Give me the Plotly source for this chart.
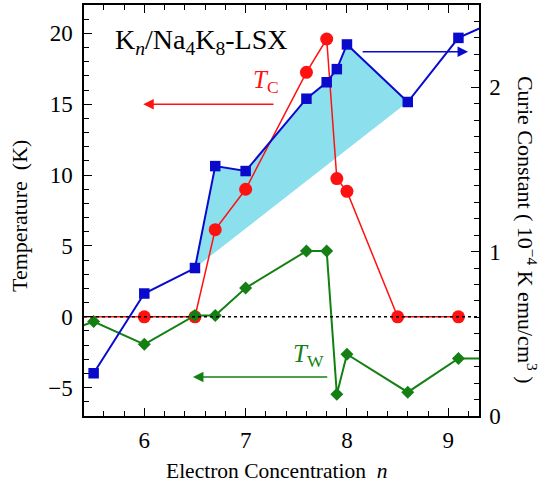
import plotly.graph_objects as go

# T_C (left axis, K)
tc_n = [5.0, 6.0, 6.5, 6.7, 7.0, 7.6, 7.8, 7.9, 8.0, 8.5, 9.1]
tc_T = [0.0, 0.0, 0.0, 6.15, 9.0, 17.25, 19.6, 9.75, 8.85, 0.0, 0.0]

# Curie constant (right axis, 1e-4 K emu/cm^3)
cc_n = [5.5, 6.0, 6.5, 6.7, 7.0, 7.6, 7.8, 7.9, 8.0, 8.6, 9.1, 9.6]
cc_C = [0.26, 0.745, 0.90, 1.52, 1.49, 1.93, 2.03, 2.11, 2.26, 1.91, 2.30, 2.44]

# T_W (left axis, K)
tw_n = [5.0, 5.5, 6.0, 6.5, 6.7, 7.0, 7.6, 7.8, 7.9, 8.0, 8.6, 9.1, 9.6]
tw_T = [-1.7, -0.33, -1.94, 0.1, 0.1, 2.03, 4.64, 4.64, -5.46, -2.64, -5.32, -2.94, -2.94]

x_ticks = [6, 7, 8, 9]
y_ticks = [-5, 0, 5, 10, 15, 20]
y2_ticks = [0, 1, 2]

Y_RANGE = [-7, 22]
Y2_RANGE = [0, 2.5]

RED = "#ff1111"
BLUE = "#0a0acc"
GREEN = "#148014"
CYAN = "rgb(140,224,238)"
FONT = "Liberation Serif"


def y2_to_y(v):
    # map a right-axis value to the left-axis scale (both axes share the plot height)
    return Y_RANGE[0] + (v - Y2_RANGE[0]) * (Y_RANGE[1] - Y_RANGE[0]) / (Y2_RANGE[1] - Y2_RANGE[0])


fig = go.Figure()

# shaded region between Curie constant curve (6.5 .. 8.6) and a straight chord
i0, i1 = cc_n.index(6.5), cc_n.index(8.6)
fig.add_trace(go.Scatter(x=cc_n[i0:i1 + 1], y=[y2_to_y(v) for v in cc_C[i0:i1 + 1]],
                         mode="none", fill="toself", fillcolor=CYAN,
                         hoverinfo="skip", showlegend=False))

fig.add_trace(go.Scatter(x=tc_n, y=tc_T, mode="lines",
                         line=dict(color=RED, width=1.5), showlegend=False))
fig.add_trace(go.Scatter(x=tc_n[1:], y=tc_T[1:], mode="markers",
                         marker=dict(symbol="circle", size=13, color=RED, line=dict(width=0)),
                         showlegend=False))
fig.add_trace(go.Scatter(x=tw_n, y=tw_T, mode="lines+markers",
                         line=dict(color=GREEN, width=2),
                         marker=dict(symbol="diamond", size=10, color=GREEN),
                         showlegend=False))
fig.add_trace(go.Scatter(x=cc_n, y=cc_C, yaxis="y2", mode="lines+markers",
                         line=dict(color=BLUE, width=2),
                         marker=dict(symbol="square", size=10.5, color=BLUE),
                         showlegend=False))

L, R, T, B = 84, 71, 3, 71
W, H = 550, 487
pw, ph = W - L - R, H - T - B


def px(xp):
    return (xp - L) / pw


def py(yp):
    return (H - B - yp) / ph


ann = []
# arrows
ann.append(dict(x=5.99, y=15.0, ax=7.29, ay=15.0, xref="x", yref="y", axref="x", ayref="y",
                showarrow=True, arrowhead=2, arrowsize=1.4, arrowwidth=1.5, arrowcolor=RED, text=""))
ann.append(dict(x=9.195, y=18.7, ax=8.14, ay=18.7, xref="x", yref="y", axref="x", ayref="y",
                showarrow=True, arrowhead=2, arrowsize=1.4, arrowwidth=1.5, arrowcolor=BLUE, text=""))
ann.append(dict(x=6.48, y=-4.25, ax=7.82, ay=-4.25, xref="x", yref="y", axref="x", ayref="y",
                showarrow=True, arrowhead=2, arrowsize=1.4, arrowwidth=1.5, arrowcolor=GREEN, text=""))
# labels
ann.append(dict(x=px(113), y=py(40), xref="paper", yref="paper", xanchor="left", yanchor="middle",
                showarrow=False, text="K<sub><i>n</i></sub>/Na<sub>4</sub>K<sub>8</sub>-LSX",
                font=dict(family=FONT, size=28, color="black")))
ann.append(dict(x=px(266), y=py(80), xref="paper", yref="paper", xanchor="center", yanchor="middle",
                showarrow=False, text="<i>T</i><sub>C</sub>",
                font=dict(family=FONT, size=25, color=RED)))
ann.append(dict(x=px(308), y=py(355), xref="paper", yref="paper", xanchor="center", yanchor="middle",
                showarrow=False, text="<i>T</i><sub>W</sub>",
                font=dict(family=FONT, size=25, color=GREEN)))
# axis titles
ann.append(dict(x=px(277), y=py(471), xref="paper", yref="paper", xanchor="center", yanchor="middle",
                showarrow=False, text="Electron Concentration  <i>n</i>",
                font=dict(family=FONT, size=21.5, color="black")))
ann.append(dict(x=px(20), y=py(215), xref="paper", yref="paper", xanchor="center", yanchor="middle",
                showarrow=False, text="Temperature  (K)", textangle=-90,
                font=dict(family=FONT, size=22, color="black")))
ann.append(dict(x=px(527), y=py(229), xref="paper", yref="paper", xanchor="center", yanchor="middle",
                showarrow=False, text="Curie Constant ( 10<sup>−4</sup> K emu/cm<sup>3</sup> )", textangle=90,
                font=dict(family=FONT, size=22, color="black")))

axis_common = dict(showline=True, linecolor="black", linewidth=1.5, ticks="inside",
                   ticklen=8, tickwidth=1.2, tickcolor="black", showgrid=False, zeroline=False,
                   tickfont=dict(family=FONT, size=23, color="black"))

fig.update_layout(
    width=W, height=H, margin=dict(l=L, r=R, t=T, b=B),
    paper_bgcolor="white", plot_bgcolor="white",
    xaxis=dict(range=[5.405, 9.303], tickvals=x_ticks, mirror="ticks",
               minor=dict(dtick=0.2, ticks="inside", ticklen=5, tickcolor="black", tickwidth=1.2),
               ticklabelstandoff=3, **axis_common),
    yaxis=dict(range=Y_RANGE, tickvals=y_ticks,
               minor=dict(dtick=1, ticks="inside", ticklen=5, tickcolor="black", tickwidth=1.2),
               ticklabelstandoff=5, **axis_common),
    yaxis2=dict(range=Y2_RANGE, tickvals=y2_ticks, overlaying="y", side="right",
                minor=dict(dtick=0.1, ticks="inside", ticklen=5, tickcolor="black", tickwidth=1.2),
                ticklabelstandoff=4, **axis_common),
    shapes=[dict(type="line", xref="paper", yref="y", x0=0, x1=1, y0=0, y1=0,
                 line=dict(color="black", width=1.5, dash="dot"), layer="above")],
    annotations=ann,
)

fig.write_html("out.html")
